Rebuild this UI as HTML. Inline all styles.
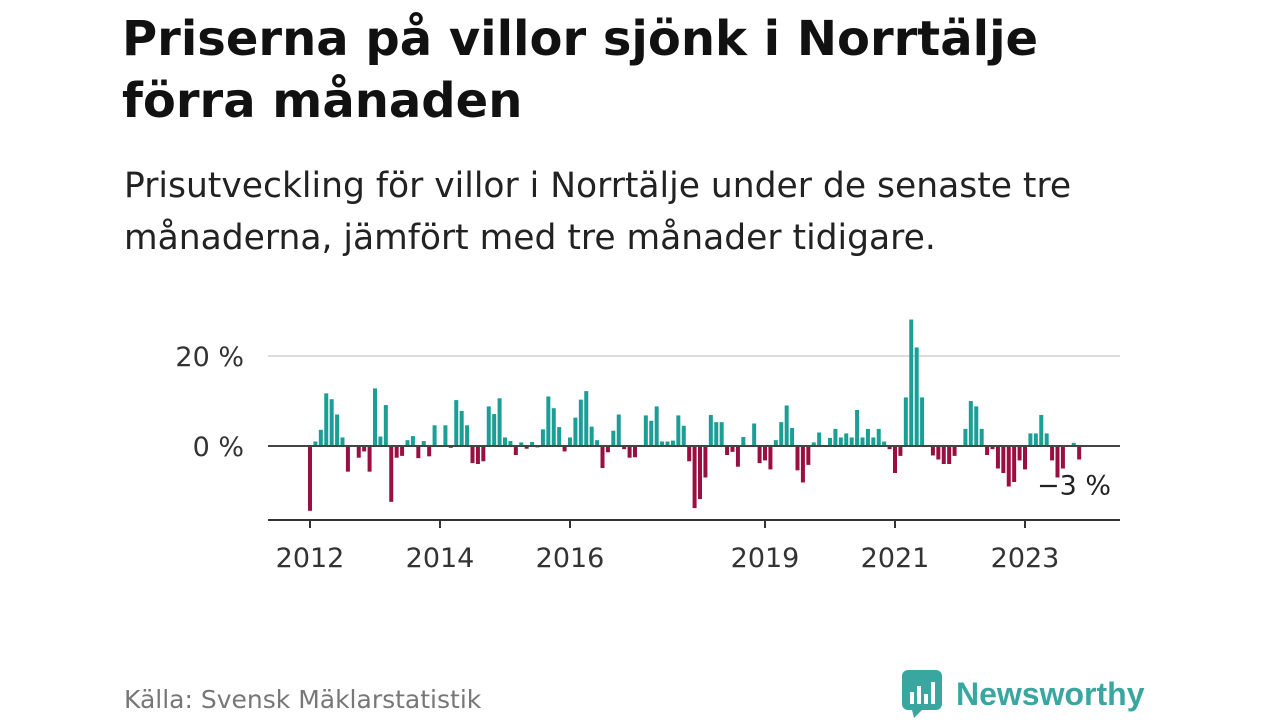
<!DOCTYPE html>
<html><head><meta charset="utf-8"><style>
body{margin:0;width:1280px;height:720px;background:#fff;font-family:"DejaVu Sans","Liberation Sans",sans-serif;overflow:hidden;position:relative}
h1{position:absolute;left:122px;top:8px;margin:0;font-size:48px;line-height:62px;font-weight:bold;color:#111}
.sub{position:absolute;left:124px;top:160px;font-size:34.5px;line-height:52px;color:#222}
.src{position:absolute;left:124px;top:685px;font-size:25px;color:#777}
.logo{position:absolute;left:902px;top:670px;display:flex;align-items:center;font-size:32px;font-weight:bold;color:#3aa6a0;font-family:"Liberation Sans",sans-serif}
</style></head><body>
<h1>Priserna på villor sjönk i Norrtälje<br>förra månaden</h1>
<div class="sub">Prisutveckling för villor i Norrtälje under de senaste tre<br>månaderna, jämfört med tre månader tidigare.</div>
<svg id="chart" width="1280" height="720" style="position:absolute;left:0;top:0"></svg>
<div class="src">Källa: Svensk Mäklarstatistik</div>
<div class="logo"><svg width="40" height="48" viewBox="0 0 40 48"><rect x="0" y="0" width="40" height="40" rx="6" fill="#3aa6a0"/><polygon points="10,40 20,40 12,48" fill="#3aa6a0"/><rect x="8" y="22" width="4" height="12" fill="#fff"/><rect x="15" y="16" width="4" height="18" fill="#fff"/><rect x="22" y="24" width="4" height="10" fill="#fff"/><rect x="29" y="12" width="4" height="22" fill="#fff"/></svg><span style="margin-left:14px">Newsworthy</span></div>
<script>
const values=[-14.4,1.0,3.6,11.7,10.4,7.0,1.9,-5.7,0,-2.6,-1.2,-5.7,12.8,2.1,9.1,-12.4,-2.6,-2.2,1.3,2.2,-2.7,1.1,-2.3,4.6,0,4.6,-0.4,10.2,7.8,4.6,-3.8,-4.0,-3.4,8.8,7.1,10.6,1.9,1.1,-2.0,0.8,-0.6,0.9,-0.3,3.7,11.0,8.4,4.2,-1.2,1.9,6.3,10.3,12.2,4.3,1.3,-4.9,-1.4,3.4,7.0,-0.7,-2.6,-2.5,0.2,6.8,5.6,8.8,1.0,1.0,1.2,6.8,4.5,-3.4,-13.8,-11.8,-7.0,6.9,5.3,5.3,-2.0,-1.3,-4.6,2.0,0,5.0,-3.8,-3.2,-5.2,1.3,5.3,9.0,4.0,-5.4,-8.1,-4.2,0.8,3.0,0,1.8,3.8,1.9,2.8,1.9,8.0,1.9,3.8,1.9,3.8,1.0,-0.7,-6.0,-2.2,10.8,28.1,21.9,10.8,0,-2.1,-3.0,-4.0,-4.0,-2.2,0,3.8,10.0,8.8,3.8,-2.0,-0.7,-5.0,-6.0,-9.0,-8.0,-3.2,-5.2,2.8,2.8,6.9,2.8,-3.2,-7.0,-5.0,0,0.7,-3.0];
const startYear=2012;
const yTicks=[0,20];
const yTickLabels=["0 %","20 %"];
const xTickYears=[2012,2014,2016,2019,2021,2023];
const lastLabel="−3 %";
const NS="http://www.w3.org/2000/svg";
const svg=document.getElementById('chart');
const x0=310,pxPerMonth=65/12;
const X=m=>x0+m*pxPerMonth;
const Y=v=>446-v*4.5;
function mk(t,a){const e=document.createElementNS(NS,t);for(const k in a)e.setAttribute(k,a[k]);svg.appendChild(e);return e;}
yTicks.forEach((t,i)=>{
 if(t!==0){const g=mk('line',{x1:268,x2:1120,y1:Y(t),y2:Y(t),stroke:'#ddd','stroke-width':2});
 
 }
 const l=mk('text',{x:244,y:Y(t)+10,'text-anchor':'end','font-size':27,fill:'#333'});
 l.textContent=yTickLabels[i];
 
 
});
values.forEach((v,i)=>{
 const x=X(i)-2;
 const r=mk('rect',{x:x,y:Math.min(Y(v),Y(0)),width:4,height:Math.abs(Y(v)-Y(0)),fill:v>=0?'#1a9e95':'#9a0f3f'});
 
 
});
const z=mk('line',{x1:268,x2:1120,y1:Y(0),y2:Y(0),stroke:'#444','stroke-width':2});


const ax=mk('line',{x1:268,x2:1120,y1:520,y2:520,stroke:'#333','stroke-width':2});


xTickYears.forEach(yr=>{
 const x=X((yr-startYear)*12);
 const t=mk('line',{x1:x,x2:x,y1:520,y2:528,stroke:'#333','stroke-width':2});
 
 
 const l=mk('text',{x:x,y:567,'text-anchor':'middle','font-size':27,fill:'#333'});
 l.textContent=yr;
 
 
});
const ll=mk('text',{x:1111,y:Y(values[values.length-1])+35,'text-anchor':'end','font-size':27,fill:'#222'});
ll.textContent=lastLabel;


</script>
</body></html>
